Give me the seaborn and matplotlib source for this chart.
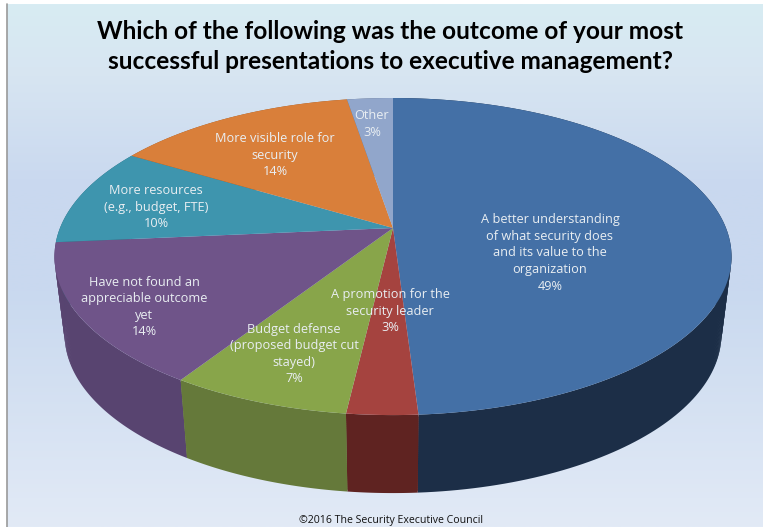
import numpy as np
import seaborn as sns
import matplotlib.pyplot as plt
from matplotlib.colors import LinearSegmentedColormap
from matplotlib.path import Path
from matplotlib.transforms import Transform

title = "Which of the following was the outcome of your most\nsuccessful presentations to executive management?"
footer = "©2016 The Security Executive Council"

categories = [
    "A better understanding\nof what security does\nand its value to the\norganization",
    "A promotion for the\nsecurity leader",
    "Budget defense\n(proposed budget cut\nstayed)",
    "Have not found an\nappreciable outcome\nyet",
    "More resources\n(e.g., budget, FTE)",
    "More visible role for\nsecurity",
    "Other",
]
# the labels show them rounded
values = [49.0, 2.85, 7.25, 14.45, 10.05, 13.8, 2.6]
top_colors = ["#4470a6", "#a5433f", "#88a54a", "#6f5489", "#3e95ae", "#d97f3a", "#91a6cb"]
wall_colors = ["#1c2e47", "#5f2321", "#65793a", "#584470", "#2a6475", "#8f5325", "#5f6d85"]
label_spots = [(550, 253), (390, 311), (294, 354), (144, 307), (156, 207), (275, 155), (372, 124)]
bg_colors = ["#d7ecf3", "#d8e6f2", "#c9d8ef", "#c9d9ef", "#e2eaf6"]

# look of the tilted disc, all in pixels of the picture
CX, CY = 393, 228
A, B, K = 333, 153.4, 0.18
DEPTH, SHRINK = 78, 0.97


def project(x, y, down=0.0):
    w = 1 + K * y
    px = CX + A * x / w * (1 - (1 - SHRINK) * down)
    py = CY - B * y / w + DEPTH * down
    return px, py


class TiltedDisc(Transform):
    input_dims = output_dims = 2
    has_inverse = False

    def transform_non_affine(self, values):
        px, py = project(values[:, 0], values[:, 1])
        return np.column_stack([px, py])

    def transform_path_non_affine(self, path):
        # curves have to be sampled, the mapping is not affine
        pts = [seg(np.linspace(0, 1, 40)) for seg, code in path.iter_bezier()]
        return Path(self.transform_non_affine(np.vstack(pts)))


sns.set_theme(style="white")
plt.rcParams["font.family"] = ["Open Sans", "DejaVu Sans"]

fig = plt.figure(figsize=(7.63, 5.27), dpi=100)
ax = fig.add_axes([0, 0, 1, 1])

wedges, _ = ax.pie(values, colors=sns.color_palette(top_colors), startangle=90,
                   counterclock=False, wedgeprops={"linewidth": 0, "zorder": 3})
for w in wedges:
    w.set_transform(TiltedDisc() + ax.transData)

# background
cmap = LinearSegmentedColormap.from_list("bg", list(zip([0, 0.12, 0.35, 0.55, 1], bg_colors)))
ax.imshow(np.linspace(0, 1, 256).reshape(-1, 1), cmap=cmap, aspect="auto",
          extent=(7, 763, 527, 4), zorder=-2)
ax.plot([7, 7], [4, 527], color="#9a9a9a", lw=1.2, zorder=-1)

# outer wall of each slice as overlapping bands, back slices first
edges = np.cumsum([0] + values) / sum(values) * 2 * np.pi
steps = np.linspace(0, 1, 41)
for i in [6, 5, 4, 0, 1, 3, 2]:
    t = np.linspace(edges[i], edges[i + 1], 150)
    x, y = np.sin(t), np.cos(t)
    for d0, d1 in zip(steps[:-2], steps[2:]):
        x0, y0 = project(x, y, d0)
        x1, y1 = project(x, y, d1)
        ax.fill(np.r_[x0, x1[::-1]], np.r_[y0, y1[::-1]], color=wall_colors[i], lw=0, zorder=1)

for cat, val, (lx, ly) in zip(categories, values, label_spots):
    ax.text(lx, ly, f"{cat}\n{round(val)}%", color="#e9eef2", fontsize=9.2, ha="center",
            va="center", linespacing=1.36, zorder=5)

ax.text(390, 46.5, title, fontsize=17.6, fontweight="bold", family=["Lato", "DejaVu Sans"],
        color="black", ha="center", va="center", linespacing=1.38, zorder=5)
ax.text(391, 521, footer, fontsize=7.6, color="#111111", ha="center", va="center", zorder=5)

ax.set_aspect("auto")
ax.set_xlim(0, 763)
ax.set_ylim(527, 0)
ax.axis("off")

fig.savefig("out.png", dpi=100, facecolor="white")
